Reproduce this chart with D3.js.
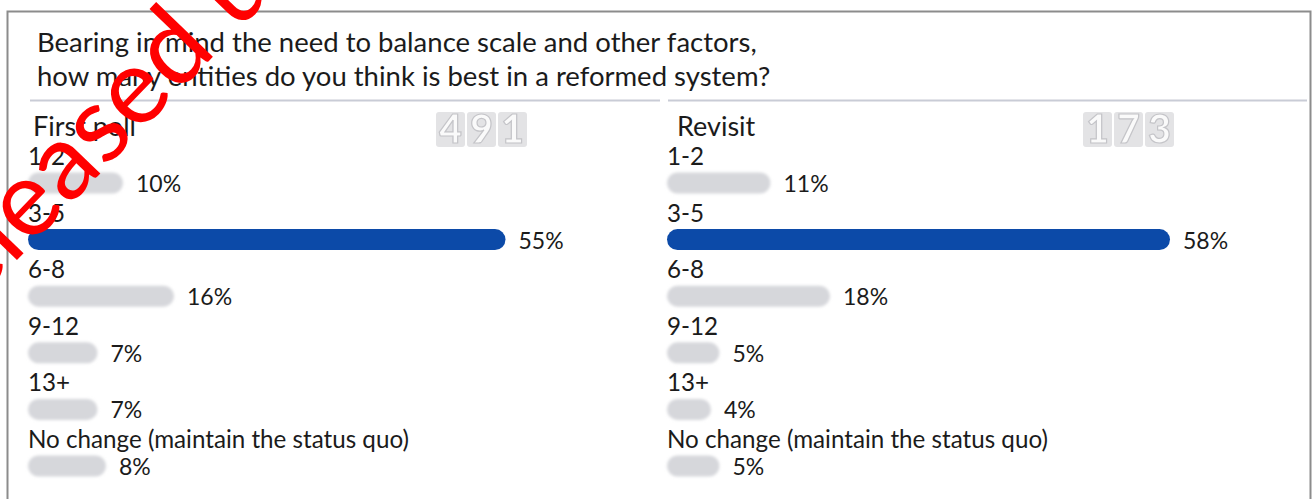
<!DOCTYPE html>
<html>
<head>
<meta charset="utf-8">
<script src="https://cdn.jsdelivr.net/npm/d3@7"></script>
<style>
  html, body { margin: 0; padding: 0; background: #fff; }
  svg { display: block; }
  text { font-family: Lato, "Open Sans", sans-serif; fill: #1b1b1b; }
</style>
</head>
<body>
<svg id="chart" width="1314" height="499"></svg>
<script>
// Poll answers and results
const questionLines = [
  "Bearing in mind the need to balance scale and other factors,",
  "how many entities do you think is best in a reformed system?"
];
const categories = ["1-2", "3-5", "6-8", "9-12", "13+", "No change (maintain the status quo)"];
const panelTitles = ["First poll", "Revisit"];
const firstPoll = [10, 55, 16, 7, 7, 8];
const revisit = [11, 58, 18, 5, 4, 5];
const respondents = [491, 173];
const watermarkText = "Released under the Official Information Act";

const W = 1314, H = 499;
const svg = d3.select("#chart");

const defs = svg.append("defs");
defs.append("filter").attr("id", "soft").attr("x", "-10%").attr("y", "-40%").attr("width", "120%").attr("height", "180%")
  .append("feGaussianBlur").attr("stdDeviation", 1.6);
defs.append("filter").attr("id", "ghost")
  .append("feGaussianBlur").attr("stdDeviation", 0.7);

// Card frame
svg.append("path")
  .attr("d", "M7.5,499 V11.5 H1310.5 V499")
  .attr("fill", "none").attr("stroke", "#8c8c8c").attr("stroke-width", 2);

// Question
const title = svg.append("g");
title.selectAll("text").data(questionLines).join("text")
  .attr("x", 37)
  .attr("y", (d, i) => 52 + i * 34)
  .attr("font-size", 27.5)
  .text(d => d);

// Panels
const panels = [
  { title: panelTitles[0], values: firstPoll, n: respondents[0], x0: 28, titleX: 33, rule: [30, 660], counterX: 436 },
  { title: panelTitles[1], values: revisit, n: respondents[1], x0: 667, titleX: 677, rule: [668, 1307], counterX: 1083 }
];

// Bar length scale (pill keeps a small minimum length)
const x = d3.scaleLinear().domain([0, 100]).range([10, 860]);
const y = d3.scalePoint().domain(categories).range([183, 466]);
const barH = 21;

panels.forEach(p => {
  const g = svg.append("g");

  g.append("line")
    .attr("x1", p.rule[0]).attr("x2", p.rule[1])
    .attr("y1", 100.5).attr("y2", 100.5)
    .attr("stroke", "#c9ccd6").attr("stroke-width", 2);

  g.append("text")
    .attr("x", p.titleX).attr("y", 136)
    .attr("font-size", 27)
    .text(p.title);

  // respondent counter, one tile per digit
  const digits = String(p.n).split("");
  const counter = g.append("g").attr("filter", "url(#ghost)");
  counter.selectAll("rect").data(digits).join("rect")
    .attr("x", (d, i) => p.counterX + i * 31)
    .attr("y", 112).attr("width", 29).attr("height", 35).attr("rx", 3)
    .attr("fill", "#e3e3e5");
  counter.selectAll("text").data(digits).join("text")
    .attr("x", (d, i) => p.counterX + i * 31 + 14.5)
    .attr("y", 143)
    .attr("text-anchor", "middle")
    .attr("font-size", 39).attr("font-weight", 900)
    .style("fill", "#fafafa").style("stroke", "#c4c4c8").style("stroke-width", 1.2)
    .text(d => d);

  const maxV = d3.max(p.values);
  const rows = g.selectAll("g.row").data(categories.map((c, i) => ({ c, v: p.values[i] })))
    .join("g").attr("class", "row");

  rows.append("text")
    .attr("x", p.x0)
    .attr("y", d => y(d.c) - 18)
    .attr("font-size", 24.2)
    .text(d => d.c);

  rows.append("rect")
    .attr("x", p.x0)
    .attr("y", d => y(d.c) - barH / 2)
    .attr("width", d => x(d.v))
    .attr("height", barH)
    .attr("rx", barH / 2)
    .attr("fill", d => d.v === maxV ? "#0c4aa8" : "#d6d7db")
    .attr("filter", d => d.v === maxV ? null : "url(#soft)");

  rows.append("text")
    .attr("x", d => p.x0 + x(d.v) + 13)
    .attr("y", d => y(d.c) + 9)
    .attr("font-size", 23)
    .text(d => d.v + "%");
});

// Release stamp across the top-left corner
svg.append("text")
  .attr("transform", "translate(-72,352) rotate(-46)")
  .attr("font-family", "Liberation Sans, Arial, sans-serif")
  .attr("font-size", 107)
  .style("fill", "#ff0000")
  .text(watermarkText);
</script>
</body>
</html>
